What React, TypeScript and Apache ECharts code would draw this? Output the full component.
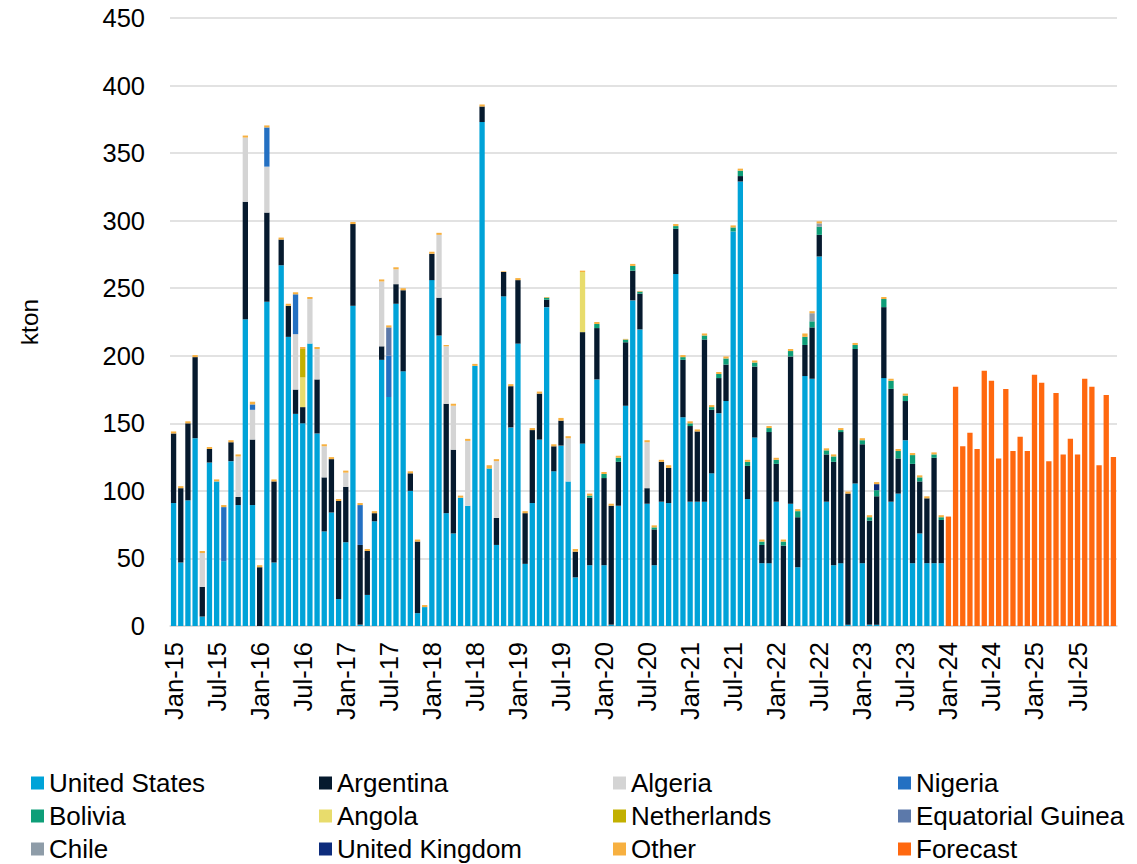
import React, { useEffect, useRef } from "react";
import * as echarts from "echarts";

// Month categories Jan-15 .. Dec-25
const MONTHS = ["Jan", "Feb", "Mar", "Apr", "May", "Jun", "Jul", "Aug", "Sep", "Oct", "Nov", "Dec"];
const YEARS = ["15", "16", "17", "18", "19", "20", "21", "22", "23", "24", "25"];
const categories: string[] = [];
YEARS.forEach((y) => MONTHS.forEach((m) => categories.push(`${m}-${y}`)));

// Historical imports (kton), Jan-15 .. Dec-23 (108 months)
const unitedStates = [
  91, 47, 93, 139, 7, 121, 107, 48, 122, 89.5, 227, 89.5,
  0, 240, 47, 267, 214, 157, 150, 209, 142.5, 70, 84, 20,
  62, 237, 1, 23, 77.5, 197, 169.5, 238.5, 188.5, 100, 9.5, 14,
  256, 215, 83.5, 68.5, 95, 89, 192.5, 373, 116.5, 60, 244, 147,
  209, 46, 91, 138, 236, 114.5, 133.5, 107, 36, 135, 45, 182.5,
  45, 1, 89, 163, 241, 219.5, 90.5, 45, 92, 91, 260.5, 154.5,
  92, 92, 92, 113, 157.5, 166.5, 292, 329, 94, 139.5, 46.5, 46.5,
  92, 0, 90.5, 43.5, 185, 183, 273.5, 92, 45, 46.5, 1, 105.5,
  46.5, 1, 1, 183.5, 92, 98, 137.5, 46.5, 68.5, 46.5, 46.5, 46.5,
];
const argentina = [
  51.5, 55, 57, 60, 22, 10, 0, 0, 14, 6, 87, 48.5,
  43.5, 66, 60, 19, 23, 18, 12, 0, 40, 40, 39.5, 72.5,
  41, 60.5, 59, 32.5, 6, 10, 0, 14.5, 60, 13, 53, 0,
  19.5, 28, 81, 62, 0, 0, 0, 11.5, 0, 20, 18, 30.5,
  47, 37.5, 54, 34, 5.5, 18.5, 18.5, 0, 19, 82.5, 50, 38,
  64.5, 88, 32.5, 47, 22, 26.5, 11.5, 26.5, 29.5, 26, 33.5, 42.5,
  56, 52, 120, 47, 26, 27, 0, 4, 24.5, 52.5, 13.5, 97,
  28, 59.5, 109, 37, 23, 38, 16, 35, 76.5, 97, 97, 99.5,
  88, 77, 95, 52.5, 83.5, 26, 29, 73.5, 38.5, 48, 78, 32,
];
const algeria = [
  0, 0, 0, 0, 25, 0, 0, 0, 0, 30, 47.5, 22,
  0, 34, 0, 0, 0, 41, 0, 33, 22.5, 23, 0, 0,
  10.5, 0, 0, 0, 0, 48, 0, 11, 0, 0, 0, 0,
  0, 46.5, 42.5, 32.5, 0, 48, 0, 0, 0, 42, 0, 0,
  0, 0, 0, 0, 0, 0, 0, 32, 0, 0, 0, 0,
  0, 0, 0, 0, 0, 0, 34, 0, 0, 0, 0, 0,
  0, 0, 0, 0, 0, 0, 0, 0, 0, 0, 0, 0,
  0, 0, 0, 0, 0, 0, 0, 0, 0, 0, 0, 0,
  0, 0, 0, 0, 0, 0, 0, 0, 0, 0, 0, 0,
];
const nigeria = [
  0, 0, 0, 0, 0, 0, 0, 40, 0, 0, 0, 4,
  0, 29, 0, 0, 0, 29.5, 0, 0, 0, 0, 0, 0,
  0, 0, 29.5, 0, 0, 0, 30.5, 0, 0, 0, 0, 0,
  0, 0, 0, 0, 0, 0, 0, 0, 0, 0, 0, 0,
  0, 0, 0, 0, 0, 0, 0, 0, 0, 0, 0, 0,
  0, 0, 0, 0, 0, 0, 0, 0, 0, 0, 0, 0,
  0, 0, 0, 0, 0, 0, 0, 0, 0, 0, 0, 0,
  0, 0, 0, 0, 0, 0, 0, 0, 0, 0, 0, 0,
  0, 0, 0, 0, 0, 0, 0, 0, 0, 0, 0, 0,
];
const bolivia = [
  0, 0, 0, 0, 0, 0, 0, 0, 0, 0, 0, 0,
  0, 0, 0, 0, 0, 0, 0, 0, 0, 0, 0, 0,
  0, 0, 0, 0, 0, 0, 0, 0, 0, 0, 0, 0,
  0, 0, 0, 0, 0, 0, 0, 0, 0, 0, 0, 0,
  0, 0, 0, 0, 1.5, 0, 0, 0, 0, 0, 1.5, 3,
  3, 0, 3, 2, 3.5, 1.5, 0, 1.5, 0, 0, 2, 2,
  2, 0, 3, 2, 3, 4.5, 3, 4, 3, 3, 2.5, 3,
  3, 3, 4, 4.5, 6, 4.5, 6, 3, 4, 1.5, 0, 3,
  3, 2.5, 4.5, 6, 6, 5.5, 4, 6.5, 3, 0, 2.5, 2,
];
const angola = [
  0, 0, 0, 0, 0, 0, 0, 0, 0, 0, 0, 0,
  0, 0, 0, 0, 0, 0, 22, 0, 0, 0, 0, 0,
  0, 0, 0, 0, 0, 0, 0, 0, 0, 0, 0, 0,
  0, 0, 0, 0, 0, 0, 0, 0, 0, 0, 0, 0,
  0, 0, 0, 0, 0, 0, 0, 0, 0, 44.5, 0, 0,
  0, 0, 0, 0, 0, 0, 0, 0, 0, 0, 0, 0,
  0, 0, 0, 0, 0, 0, 0, 0, 0, 0, 0, 0,
  0, 0, 0, 0, 0, 0, 0, 0, 0, 0, 0, 0,
  0, 0, 0, 0, 0, 0, 0, 0, 0, 0, 0, 0,
];
const netherlands = [
  0, 0, 0, 0, 0, 0, 0, 0, 0, 0, 0, 0,
  0, 0, 0, 0, 0, 0, 21, 0, 0, 0, 0, 0,
  0, 0, 0, 0, 0, 0, 0, 0, 0, 0, 0, 0,
  0, 0, 0, 0, 0, 0, 0, 0, 0, 0, 0, 0,
  0, 0, 0, 0, 0, 0, 0, 0, 0, 0, 0, 0,
  0, 0, 0, 0, 0, 0, 0, 0, 0, 0, 0, 0,
  0, 0, 0, 0, 0, 0, 0, 0, 0, 0, 0, 0,
  0, 0, 0, 0, 0, 0, 0, 0, 0, 0, 0, 0,
  0, 0, 0, 0, 0, 0, 0, 0, 0, 0, 0, 0,
];
const equatorialGuinea = [
  0, 0, 0, 0, 0, 0, 0, 0, 0, 0, 0, 0,
  0, 0, 0, 0, 0, 0, 0, 0, 0, 0, 0, 0,
  0, 0, 0, 0, 0, 0, 21, 0, 0, 0, 0, 0,
  0, 0, 0, 0, 0, 0, 0, 0, 0, 0, 0, 0,
  0, 0, 0, 0, 0, 0, 0, 0, 0, 0, 0, 0,
  0, 0, 0, 0, 0, 0, 0, 0, 0, 0, 0, 0,
  0, 0, 0, 0, 0, 0, 0, 0, 0, 0, 0, 0,
  0, 0, 0, 0, 0, 0, 0, 0, 0, 0, 0, 0,
  0, 0, 0, 0, 0, 0, 0, 0, 0, 0, 0, 0,
];
const chile = [
  0, 0, 0, 0, 0, 0, 0, 0, 0, 0, 0, 0,
  0, 0, 0, 0, 0, 0, 0, 0, 0, 0, 0, 0,
  0, 0, 0, 0, 0, 0, 0, 0, 0, 0, 0, 0,
  0, 0, 0, 0, 0, 0, 0, 0, 0, 0, 0, 0,
  0, 0, 0, 0, 0, 0, 0, 0, 0, 0, 0, 0,
  0, 0, 0, 0, 0, 0, 0, 0, 0, 0, 0, 0,
  0, 0, 0, 0, 0, 0, 0, 0, 0, 0, 0, 0,
  0, 0, 0, 0, 0, 6, 2.5, 0, 0, 0, 0, 0,
  0, 0, 0, 0, 0, 0, 0, 0, 0, 0, 0, 0,
];
const unitedKingdom = [
  0, 0, 0, 0, 0, 0, 0, 0, 0, 0, 0, 0,
  0, 0, 0, 0, 0, 0, 0, 0, 0, 0, 0, 0,
  0, 0, 0, 0, 0, 0, 0, 0, 0, 0, 0, 0,
  0, 0, 0, 0, 0, 0, 0, 0, 0, 0, 0, 0,
  0, 0, 0, 0, 0, 0, 0, 0, 0, 0, 0, 0,
  0, 0, 0, 0, 0, 0, 0, 0, 0, 0, 0, 0,
  0, 0, 0, 0, 0, 0, 0, 0, 0, 0, 0, 0,
  0, 0, 0, 0, 0, 0, 0, 0, 0, 0, 0, 0,
  0, 0, 4.5, 0, 0, 0, 0, 0, 0, 0, 0, 0,
];
const other = [
  1.5, 1.5, 1.5, 1.5, 1.5, 1.5, 1.5, 1.5, 1.5, 1.5, 1.5, 2,
  1.5, 1.5, 1.5, 1.5, 1.5, 1.5, 1.5, 1.5, 1.5, 1.5, 1.5, 1.5,
  1.5, 1.5, 1.5, 1.5, 1.5, 1.5, 1.5, 1.5, 1.5, 1.5, 1.5, 1.5,
  1.5, 1.5, 1, 1.5, 1.5, 1.5, 1.5, 1.5, 2.5, 1.5, 0.5, 1.5,
  1.5, 1.5, 1.5, 1.5, 0.5, 1.5, 2, 1.5, 2, 1, 1.5, 1.5,
  1.5, 1.5, 1.5, 0.5, 1.5, 0.5, 1.5, 1.5, 1.5, 2, 1.5, 1.5,
  1.5, 1.5, 1.5, 1.5, 1.5, 1.5, 1.5, 1.5, 1.5, 1.5, 1.5, 1.5,
  1.5, 1.5, 1.5, 1.5, 2.5, 1.5, 1.5, 1.5, 1.5, 1.5, 1.5, 1.5,
  1.5, 1.5, 1.5, 1.5, 1.5, 1.5, 1.5, 1.5, 1.5, 1.5, 1.5, 1.5,
];
// Forecast Jan-24 .. Dec-25
const forecast = [
  81, 177, 133, 143, 131, 189, 181.5, 124, 175.5, 129.5, 140, 129.5,
  186, 180, 122, 172.5, 127, 138.5, 127, 183, 177, 119, 171, 125,
];

const HIST = 108;
const pad = (arr: number[]) => [...arr, ...new Array(categories.length - arr.length).fill(null)];
const padFront = (arr: number[]) => [...new Array(HIST).fill(null), ...arr];

const seriesDefs: { name: string; data: (number | null)[]; color: string }[] = [
  { name: "United States", data: pad(unitedStates), color: "#00A3D8" },
  { name: "Argentina", data: pad(argentina), color: "#061A2E" },
  { name: "Algeria", data: pad(algeria), color: "#D4D4D4" },
  { name: "Nigeria", data: pad(nigeria), color: "#2470C2" },
  { name: "Bolivia", data: pad(bolivia), color: "#0E9E78" },
  { name: "Angola", data: pad(angola), color: "#E8DC6C" },
  { name: "Netherlands", data: pad(netherlands), color: "#C2B000" },
  { name: "Equatorial Guinea", data: pad(equatorialGuinea), color: "#5C79AA" },
  { name: "Chile", data: pad(chile), color: "#8E9CA8" },
  { name: "United Kingdom", data: pad(unitedKingdom), color: "#0D2C7C" },
  { name: "Other", data: pad(other), color: "#F7B040" },
  { name: "Forecast", data: padFront(forecast), color: "#FF680F" },
];

// Legend grid: rows x columns as in the reference
const legendRows = [
  ["United States", "Argentina", "Algeria", "Nigeria"],
  ["Bolivia", "Angola", "Netherlands", "Equatorial Guinea"],
  ["Chile", "United Kingdom", "Other", "Forecast"],
];
const legendLefts = [31, 319, 613, 898];
const legendTops = [769, 802, 835];

const FONT = 'Arial, "Liberation Sans", sans-serif';

export default function App() {
  const ref = useRef<HTMLDivElement>(null);
  useEffect(() => {
    if (!ref.current) return;
    const chart = echarts.init(ref.current, undefined, { renderer: "svg" });
    const legends: any[] = [];
    legendRows.forEach((row, r) =>
      row.forEach((name, c) =>
        legends.push({
          data: [name],
          orient: "horizontal",
          left: legendLefts[c],
          top: legendTops[r],
          itemWidth: 13,
          itemHeight: 13,
          icon: "rect",
          selectedMode: false,
          padding: 0,
          textStyle: { fontSize: 26, color: "#000", fontFamily: FONT, lineHeight: 28 },
        })
      )
    );
    chart.setOption({
      animation: false,
      textStyle: { fontFamily: FONT },
      grid: { left: 170, right: 20, top: 18, bottom: 238, containLabel: false },
      legend: legends,
      xAxis: {
        type: "category",
        data: categories,
        axisTick: { show: false },
        axisLine: { show: true, lineStyle: { color: "#D9D9D9", width: 1.5 } },
        axisLabel: {
          interval: 5,
          rotate: 90,
          margin: 16,
          fontSize: 25.5,
          color: "#000",
          fontFamily: FONT,
        },
      },
      yAxis: {
        type: "value",
        min: 0,
        max: 450,
        interval: 50,
        name: "kton",
        nameLocation: "middle",
        nameRotate: 90,
        nameGap: 128,
        nameTextStyle: { fontSize: 24.5, color: "#000", fontFamily: FONT },
        axisLine: { show: false },
        axisTick: { show: false },
        axisLabel: { fontSize: 25.5, color: "#000", margin: 25, fontFamily: FONT },
        splitLine: { lineStyle: { color: "#D9D9D9", width: 1.5 } },
      },
      series: seriesDefs.map((s) => ({
        name: s.name,
        type: "bar",
        stack: "total",
        data: s.data,
        barCategoryGap: "26%",
        itemStyle: { color: s.color },
        emphasis: { disabled: true },
      })),
    });
    return () => chart.dispose();
  }, []);
  return (
    <div
      ref={ref}
      style={{ position: "fixed", left: 0, top: 0, width: 1137, height: 864, background: "#fff" }}
    />
  );
}
